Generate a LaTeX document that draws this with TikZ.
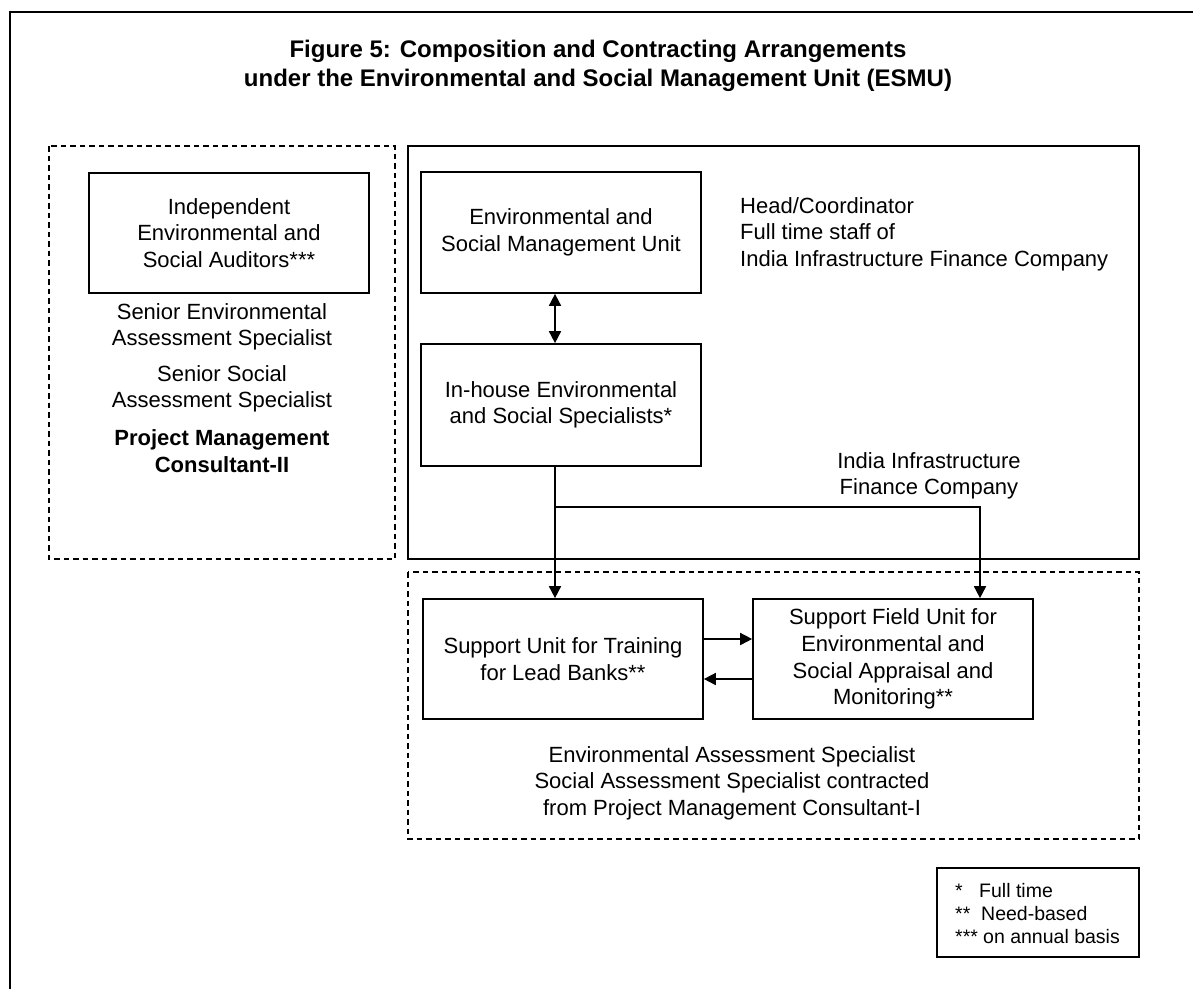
\documentclass[tikz,border=0pt]{standalone}
\usepackage{fontspec}
\setmainfont{Liberation Sans}
\usetikzlibrary{arrows.meta}
\begin{document}
\begin{tikzpicture}[x=1pt,y=-1pt,
  every node/.style={font=\fontsize{22}{26.5}\selectfont},
  unitbox/.style={draw,line width=1.7pt,minimum width=280pt,minimum height=121pt,align=center,inner sep=0pt},
  freetext/.style={inner sep=0pt,align=center},
  conn/.style={line width=1.7pt,-{Triangle[width=12pt,length=12pt]}},
  dconn/.style={line width=1.7pt,{Triangle[width=12pt,length=12pt]}-{Triangle[width=12pt,length=12pt]}},
  dashbox/.style={line width=1.5pt,dash pattern=on 5.5pt off 4pt},
  solidbox/.style={line width=1.7pt}]
\useasboundingbox (0,0) rectangle (1193,989);
\fill[white] (0,0) rectangle (1193,989);
% frame (only top and left edges visible)
\draw[line width=2pt] (1193,11.5) -- (9.5,11.5) -- (9.5,989);
% title
\node[freetext,font=\fontsize{24}{29}\selectfont\bfseries] (title) at (598,66)
  {Figure 5: Composition and Contracting Arrangements\\under the Environmental and Social Management Unit (ESMU)};
% containers
\draw[dashbox] (49,146) rectangle (395,559);
\draw[solidbox] (408,146) rectangle (1139,559);
\draw[dashbox] (408,572) rectangle (1139,839);
% left column
\node[unitbox,minimum height=120pt] (indep) at (229,233) {Independent\\Environmental and\\Social Auditors***};
\node[freetext] (senv) at (222,327) {Senior Environmental\\Assessment Specialist};
\node[freetext] (ssoc) at (222,389) {Senior Social\\Assessment Specialist};
\node[freetext,font=\fontsize{22}{26.5}\selectfont\bfseries] (pmc2) at (222,451) {Project Management\\Consultant-II};
% right box
\node[unitbox] (esmu) at (561,232.5) {Environmental and\\Social Management Unit};
\node[freetext,align=left,anchor=north west] (head) at (740,197) {Head/Coordinator\\Full time staff of\\India Infrastructure Finance Company};
\node[unitbox,minimum height=122pt] (inhouse) at (561,405) {In-house Environmental\\and Social Specialists*};
\node[freetext,anchor=north] (iifc) at (929,452) {India Infrastructure\\Finance Company};
% bottom box
\node[unitbox,minimum height=120pt] (sutrain) at (563,659) {Support Unit for Training\\for Lead Banks**};
\node[unitbox,minimum height=120pt] (sfield) at (893,659) {\raisebox{-3pt}{\parbox{270pt}{\centering\fontsize{22}{26.7}\selectfont Support Field Unit for\\Environmental and\\Social Appraisal and\\Monitoring**}}};
\node[freetext,anchor=north] (pmc1) at (732,746) {Environmental Assessment Specialist\\Social Assessment Specialist contracted\\from Project Management Consultant-I};
% legend
\node[draw,line width=1.7pt,minimum width=202pt,minimum height=89pt,inner sep=0pt] (legendbox) at (1038,912.5) {};
\node[freetext,align=left,anchor=north west,font=\fontsize{19.5}{23}\selectfont] (legendtext) at (955,883)
  {\makebox[24pt][l]{*}Full time\\\makebox[26pt][l]{**}Need-based\\\makebox[28pt][l]{***}on annual basis};
% connectors
\draw[dconn] ([xshift=-6pt]esmu.south) -- ([xshift=-6pt]inhouse.north);
\coordinate (br) at ([xshift=-6pt,yshift=-40pt]inhouse.south);
\draw[conn] ([xshift=-6pt]inhouse.south) -- ([xshift=-6pt]inhouse.south |- sutrain.north);
\draw[conn] (br) -| ([xshift=87pt]sfield.north);
\draw[conn] ([yshift=20pt]sutrain.east) -- ([yshift=20pt]sfield.west);
\draw[conn] ([yshift=-20pt]sfield.west) -- ([yshift=-20pt]sutrain.east);
\end{tikzpicture}
\end{document}
